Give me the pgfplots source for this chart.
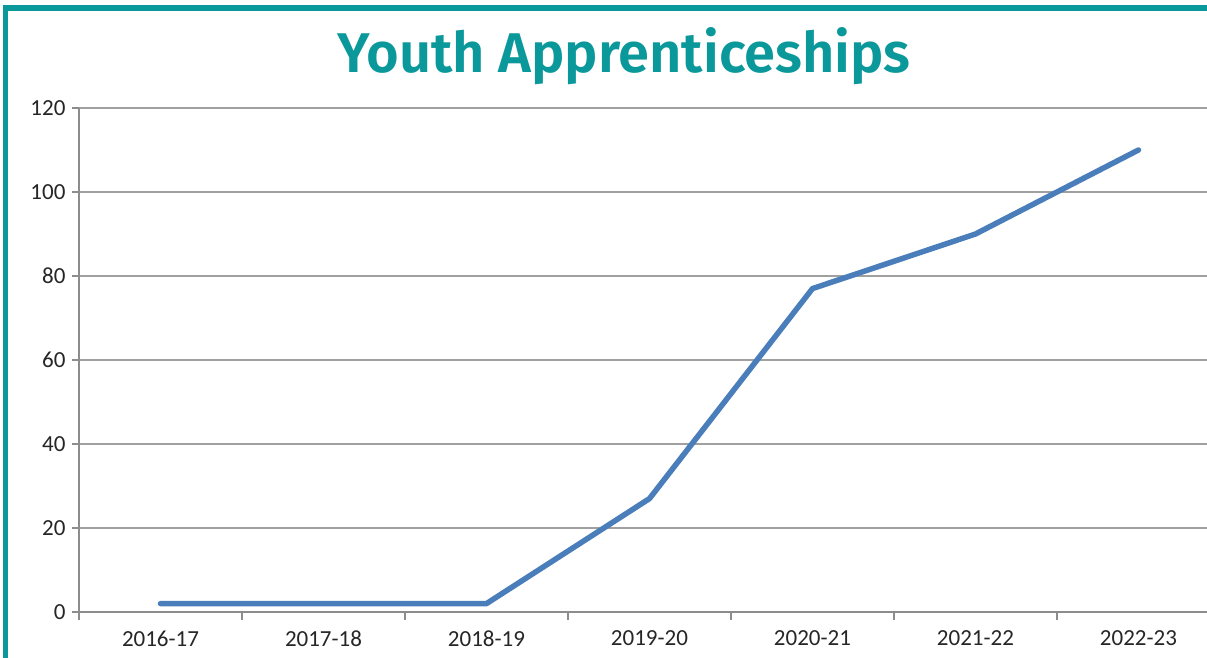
\documentclass[border=0pt]{standalone}
\usepackage{pgfplots}
\pgfplotsset{compat=1.18}
\usepackage{fontspec}
\setmainfont{Carlito}
\newfontfamily\titlefont{Fira Sans SemiBold}
\definecolor{teal1}{HTML}{0A989B}
\definecolor{lineblue}{HTML}{4A7EBB}
\definecolor{gridgray}{HTML}{A0A0A0}
\definecolor{axgray}{HTML}{8C8C8C}
\definecolor{txt}{HTML}{262626}
\begin{document}
\begin{tikzpicture}[x=1pt,y=1pt]
\useasboundingbox (0,0) rectangle (1207,658);
\clip (0,0) rectangle (1207,658);
\fill[white] (0,0) rectangle (1207,658);
\begin{axis}[
  at={(79pt,46pt)}, anchor=south west,
  scale only axis, width=1141pt, height=504pt,
  xmin=-0.5, xmax=6.5, ymin=0, ymax=120,
  axis x line*=bottom, axis y line*=left,
  axis line style={axgray, line width=2pt},
  xtick={0,...,6},
  xticklabels={2016-17,2017-18,2018-19,2019-20,2020-21,2021-22,2022-23},
  major x tick style={draw=none},
  minor xtick={-0.5,0.5,...,6.5},
  minor x tick style={axgray, line width=2pt},
  minor tick length=8pt,
  ytick={0,20,...,120},
  major y tick style={axgray, line width=2pt},
  major tick length=7pt,
  tick align=outside,
  ymajorgrids, grid style={gridgray, line width=2pt},
  /pgf/number format/assume math mode=true,
  tick label style={font=\fontsize{23}{26}\selectfont, text=txt},
  yticklabel style={xshift=-3pt},
  xticklabel style={yshift=-8pt},
  clip=false,
]
\addplot[lineblue, line width=5.5pt, line cap=round, line join=round] coordinates {
  (0,2) (1,2) (2,2) (3,27) (4,77) (5,90) (6,110)
};
\end{axis}
\draw[teal1, line width=5.5pt] (5.5,0) -- (5.5,650) -- (1207,650);
\node[anchor=base, text=teal1, font=\titlefont\fontsize{56}{66}\selectfont] at (624,585) {Youth Apprenticeships};
\end{tikzpicture}
\end{document}
